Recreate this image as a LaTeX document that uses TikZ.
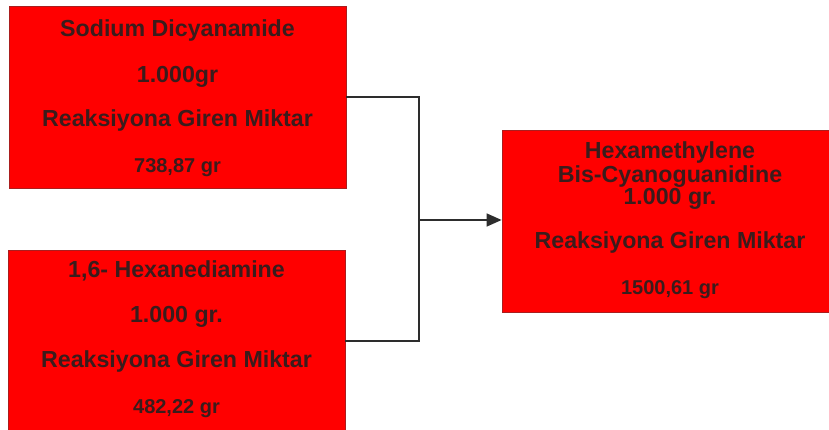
\documentclass[tikz,border=0pt]{standalone}
\usepackage{fontspec}
\setmainfont{Liberation Sans}
\usetikzlibrary{arrows.meta}
\definecolor{boxred}{RGB}{255,0,0}
\definecolor{boxedge}{RGB}{170,30,30}
\definecolor{txt}{RGB}{58,28,28}
\definecolor{wire}{RGB}{45,45,45}
\tikzset{
  box/.style={draw=boxedge, line width=0.8pt, fill=boxred, inner sep=0pt,
    minimum width=337pt, minimum height=182pt},
  lbl/.style={anchor=base, inner sep=0pt, text=txt,
    font=\bfseries\fontsize{23.2}{26}\selectfont},
  lblsm/.style={lbl, font=\bfseries\fontsize{20}{24}\selectfont},
  wireline/.style={draw=wire, line width=1.5pt},
}
\begin{document}
\begin{tikzpicture}[x=1pt,y=1pt]
\useasboundingbox (0,0) rectangle (829,430);
\clip (0,0) rectangle (829,430);

% reactant and product boxes
\node[box] (top) at (177.5,333) {};
\node[box] (bot) at (176.5,89) {};
\node[box, minimum width=336pt] (res) at (670,209) {};

% first reactant
\node[lbl] (t1) at (177.5,393.3) {Sodium Dicyanamide};
\node[lbl] (t2) at (177.5,347.3) {1.000gr};
\node[lbl] (t3) at (177.5,303.3) {Reaksiyona Giren Miktar};
\node[lblsm] (t4) at (177.5,257.3) {738,87 gr};

% second reactant
\node[lbl] (b1) at (176.5,152) {1,6- Hexanediamine};
\node[lbl] (b2) at (176.5,107) {1.000 gr.};
\node[lbl] (b3) at (176.5,62) {Reaksiyona Giren Miktar};
\node[lblsm] (b4) at (176.5,16) {482,22 gr};

% product
\node[lbl] (r1) at (670,271) {Hexamethylene};
\node[lbl] (r2) at (670,247) {Bis-Cyanoguanidine};
\node[lbl] (r3) at (670,225) {1.000 gr.};
\node[lbl] (r4) at (670,181) {Reaksiyona Giren Miktar};
\node[lblsm] (r5) at (670,135) {1500,61 gr};

% connectors
\coordinate (j) at (419,210);
\draw[wireline] (top.east) -| (j);
\draw[wireline] (bot.east) -| (j);
\draw[wireline, -{Triangle[length=15pt,width=13pt]}] (j) -- (j -| res.west);
\end{tikzpicture}
\end{document}
